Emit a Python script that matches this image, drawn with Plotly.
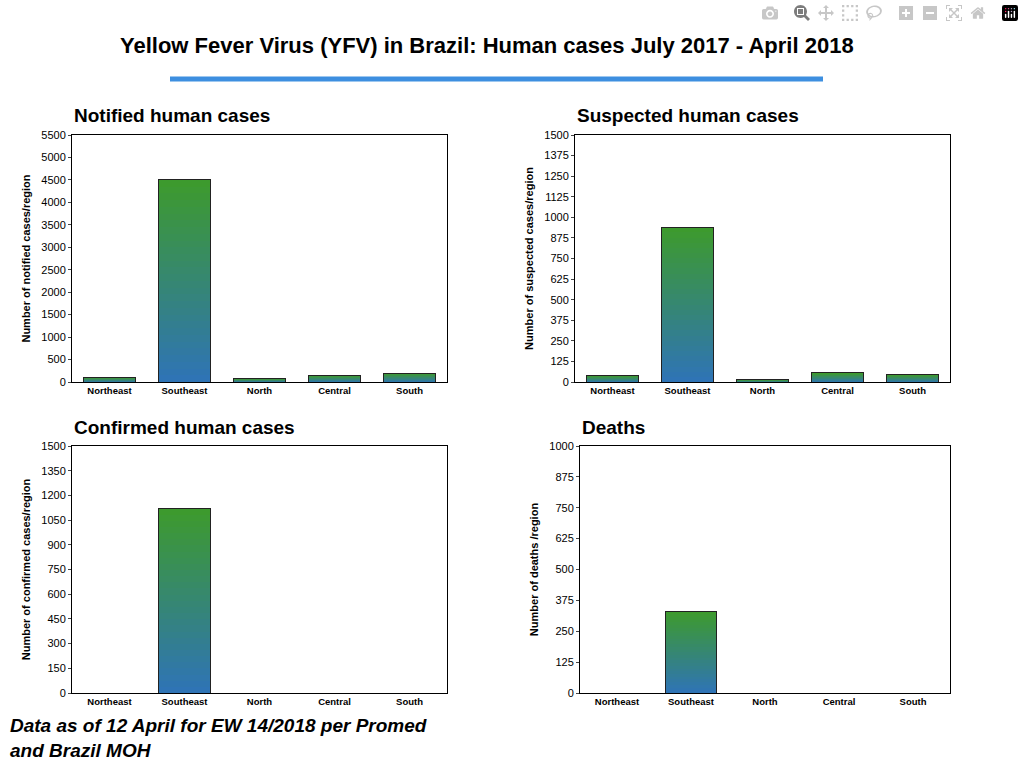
import plotly.graph_objects as go

regions = ["Northeast", "Southeast", "North", "Central", "South"]
notified = [110, 4500, 80, 150, 200]
suspected = [40, 940, 15, 55, 45]
confirmed = [0, 1120, 0, 0, 0]
deaths = [0, 330, 0, 0, 0]

panels = [
    ("Notified human cases", notified, "Number of notified cases/region", 5500, 500, (72, 447, 135, 382)),
    ("Suspected human cases", suspected, "Number of suspected cases/region", 1500, 125, (575, 950, 135, 382)),
    ("Confirmed human cases", confirmed, "Number of confirmed cases/region", 1500, 150, (72, 447, 446, 693)),
    ("Deaths", deaths, "Number of deaths /region", 1000, 125, (580, 950, 446, 693)),
]

W, H = 1024, 768
N = 30
top = (61, 154, 46)
bot = (47, 116, 181)

def col(t):
    c = [round(bot[i] + (top[i] - bot[i]) * t) for i in range(3)]
    return f"rgb({c[0]},{c[1]},{c[2]})"

fig = go.Figure()
anns = []
for k, (title, vals, ytitle, ymax, dt, (x0, x1, y0, y1)) in enumerate(panels):
    xa = "x" if k == 0 else f"x{k+1}"
    ya = "y" if k == 0 else f"y{k+1}"
    for s in range(N):
        fig.add_bar(x=regions, y=[v / N for v in vals], xaxis=xa, yaxis=ya,
                    marker=dict(color=col(s / (N - 1)), line_width=0), width=0.7,
                    showlegend=False, hoverinfo="skip")
    fig.add_bar(x=regions, y=vals, xaxis=xa, yaxis=ya, base=0, width=0.7,
                marker=dict(color="rgba(0,0,0,0)", line=dict(color="#222", width=1)),
                showlegend=False)
    sfx = "" if k == 0 else str(k + 1)
    fig.layout["xaxis" + sfx] = dict(domain=[x0 / W, x1 / W], anchor=ya, showline=True, mirror=True,
                                     linecolor="black", linewidth=1, tickfont=dict(size=9.5, color="black"),
                                     tickmode="array", tickvals=regions,
                                     ticktext=[f"<b>{r}</b>" for r in regions],
                                     ticks="", fixedrange=True)
    fig.layout["yaxis" + sfx] = dict(domain=[1 - y1 / H, 1 - y0 / H], anchor=xa, range=[0, ymax],
                                     dtick=dt, showline=True, mirror=True, linecolor="black", linewidth=1,
                                     showgrid=False, zeroline=False, tickfont=dict(size=11, color="black"),
                                     ticks="outside", ticklen=3,
                                     title=dict(text=f"<b>{ytitle}</b>", font=dict(size=11, color="black"), standoff=8))
    anns.append(dict(text=f"<b>{title}</b>", x=x0 / W, y=1 - (y0 - 19) / H, xref="paper", yref="paper",
                     xanchor="left", yanchor="middle", showarrow=False, font=dict(size=19, color="black")))

fig.update_layout(barmode="stack")
anns.append(dict(text="<b>Yellow Fever Virus (YFV) in Brazil: Human cases July 2017 - April 2018</b>",
                 x=487 / W, y=1 - 45 / H, xref="paper", yref="paper", xanchor="center", yanchor="middle",
                 showarrow=False, font=dict(size=22, color="black")))
anns.append(dict(text="<b><i>Data as of 12 April for EW 14/2018 per Promed<br>and Brazil MOH</i></b>",
                 x=8 / W, y=1 - 738 / H, xref="paper", yref="paper", xanchor="left", yanchor="middle",
                 align="left", showarrow=False, font=dict(size=19, color="black")))
fig.update_layout(
    width=W, height=H, margin=dict(l=0, r=0, t=0, b=0, autoexpand=False),
    plot_bgcolor="white", paper_bgcolor="white",
    font=dict(family="Liberation Sans, Arial, sans-serif"), annotations=anns,
    shapes=[dict(type="line", xref="paper", yref="paper", x0=170 / W, x1=823 / W, y0=1 - 79 / H, y1=1 - 79 / H,
                 line=dict(color="#3d8fe0", width=5))],
)
fig.write_html("out.html")
with open("out.html", encoding="utf-8") as f:
    html = f.read()
html = html.replace("<head>", "<head><style>html,body{margin:0;padding:0;overflow:hidden;}</style>", 1)
with open("out.html", "w", encoding="utf-8") as f:
    f.write(html)
